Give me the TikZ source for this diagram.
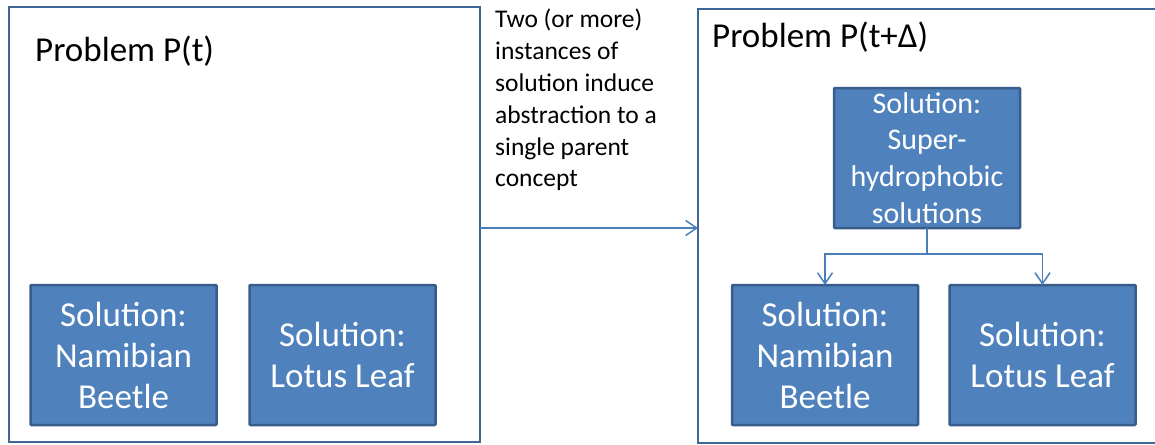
\documentclass[tikz,border=0pt]{standalone}
\usepackage{fontspec}
\setmainfont{Carlito}
\usetikzlibrary{arrows.meta}
\definecolor{boxfill}{HTML}{4F81BD}
\definecolor{boxline}{HTML}{385D8A}
\definecolor{frameline}{HTML}{3E6594}
\definecolor{conn}{HTML}{4A7EBB}
\begin{document}
\begin{tikzpicture}[x=1pt,y=-1pt,
  frame/.style={draw=frameline,line width=2.5pt,inner sep=0pt,outer sep=0pt},
  solbox/.style={draw=boxline,fill=boxfill,line width=2.5pt,rounded corners=1pt,
    minimum width=186pt,minimum height=140pt,text=white,align=center,
    font=\fontsize{35}{41}\selectfont,inner sep=0pt,outer sep=0pt},
  title/.style={anchor=base west,inner sep=0pt,font=\fontsize{35}{41}\selectfont},
  note/.style={anchor=north west,inner sep=0pt,align=left,font=\fontsize{25.5}{31.8}\selectfont},
  conline/.style={draw=conn,line width=1.5pt},
  arr/.style={conline,-{Straight Barb[length=11pt,width=15pt,line width=1.5pt]}}]
\useasboundingbox (0,0) rectangle (1155,444);
\fill[white] (0,0) rectangle (1155,444);
\clip (0,0) rectangle (1155,444);
% frames
\node[frame,minimum width=471pt,minimum height=435pt] (L) at (244.5,224.5) {};
\node[frame,minimum width=477pt,minimum height=434pt] (R) at (936.5,226) {};
% titles
\node[title] (tl) at (35,62) {Problem P(t)};
\node[title] (tr) at (712,48) {Problem P(t+Δ)};
% middle note
\node[note] (mid) at (495,9) {Two (or more)\\instances of\\solution induce\\abstraction to a\\single parent\\concept};
% solution boxes
\node[solbox] (b1) at (123.5,355) {Solution:\\Namibian\\Beetle};
\node[solbox] (b2) at (342.5,355) {Solution:\\Lotus Leaf};
\node[solbox,minimum height=140pt,font=\fontsize{30}{36.7}\selectfont] (top) at (927,158) {Solution:\\Super-\\hydrophobic\\solutions};
\node[solbox] (rb1) at (825,355) {Solution:\\Namibian\\Beetle};
\node[solbox] (rb2) at (1042.5,355) {Solution:\\Lotus Leaf};
% connectors
\coordinate (j) at (927,254);
\draw[conline] (top.south) -- (j);
\draw[arr] (j) -| (rb1.north);
\draw[arr] (j) -| (rb2.north);
\coordinate (m) at (0,228);
\draw[arr] (L.east |- m) -- (R.west |- m);
\end{tikzpicture}
\end{document}
